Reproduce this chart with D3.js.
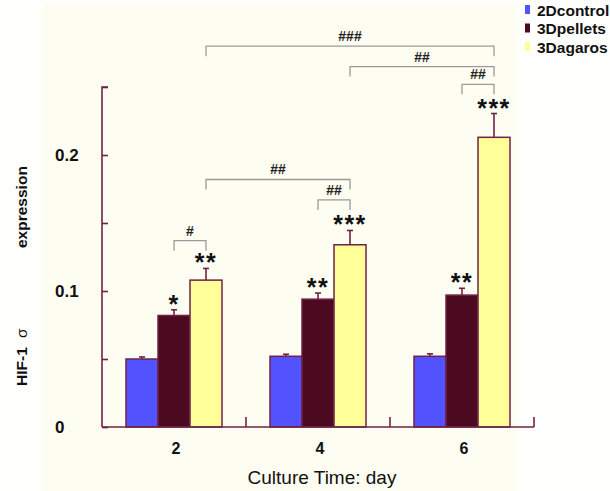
<!DOCTYPE html>
<html>
<head>
<meta charset="utf-8">
<script src="https://cdn.jsdelivr.net/npm/d3@7/dist/d3.min.js"></script>
<style>
  html, body { margin: 0; padding: 0; background: #ffffff; }
  svg { display: block; font-family: Arial, "Liberation Sans", sans-serif; }
</style>
</head>
<body>
<svg id="chart" width="610" height="491"></svg>
<script>
// ---------------- data ----------------
const categories = ["2", "4", "6"];
const seriesNames = ["2Dcontrol", "3Dpellets", "3Dagaros"];
const control2D = [0.050, 0.052, 0.052];
const pellets3D = [0.082, 0.094, 0.097];
const agaros3D  = [0.108, 0.134, 0.213];
const control2DErr = [0.0015, 0.0015, 0.0018];
const pellets3DErr = [0.0042, 0.0045, 0.005];
const agaros3DErr  = [0.0086, 0.0105, 0.0175];
const pellets3DStars = ["*", "**", "**"];
const agaros3DStars  = ["**", "***", "***"];
const yTickValues = [0, 0.05, 0.1, 0.15, 0.2, 0.25];
const yTickLabels = ["0", "", "0.1", "", "0.2", ""];
// comparisons: [category, series] -> [category, series], bracket level (y units), label
const comparisons = [
  { from: ["2", "3Dpellets"], to: ["2", "3Dagaros"], level: 0.137, label: "#" },
  { from: ["4", "3Dpellets"], to: ["4", "3Dagaros"], level: 0.167, label: "##" },
  { from: ["2", "3Dagaros"],  to: ["4", "3Dagaros"], level: 0.182, label: "##" },
  { from: ["6", "3Dpellets"], to: ["6", "3Dagaros"], level: 0.252, label: "##" },
  { from: ["4", "3Dagaros"],  to: ["6", "3Dagaros"], level: 0.265, label: "##" },
  { from: ["2", "3Dagaros"],  to: ["6", "3Dagaros"], level: 0.280, label: "###" }
];

const values = [control2D, pellets3D, agaros3D];
const errs = [control2DErr, pellets3DErr, agaros3DErr];
const stars = [null, pellets3DStars, agaros3DStars];

// ---------------- layout ----------------
const svg = d3.select("#chart");
const colors = d3.scaleOrdinal().domain(seriesNames).range(["#5252ff", "#4c0a20", "#ffff99"]);
const axisColor = "#6e2346";

// background panel
svg.append("rect").attr("x", 0).attr("y", 0).attr("width", 610).attr("height", 491).attr("fill", "#fefefc");
svg.append("rect").attr("x", 42).attr("y", 5).attr("width", 475).attr("height", 486).attr("fill", "#fdfdf2");

const x0 = d3.scaleBand().domain(categories).range([102, 534]).paddingInner(0).paddingOuter(0);
const x1 = d3.scaleBand().domain(seriesNames).range([24, 120]);
const y = d3.scaleLinear().domain([0, 0.25]).range([427, 87]);

const rows = [];
categories.forEach((c, ci) => {
  seriesNames.forEach((s, si) => {
    rows.push({ cat: c, ser: s, v: values[si][ci], e: errs[si][ci], star: stars[si] ? stars[si][ci] : null });
  });
});

const cx = (c, s) => x0(c) + x1(s) + x1.bandwidth() / 2;

// error bars
const eb = svg.append("g").attr("stroke", axisColor).attr("stroke-width", 1.6);
rows.forEach(d => {
  const xc = cx(d.cat, d.ser);
  eb.append("line").attr("x1", xc).attr("x2", xc).attr("y1", y(d.v)).attr("y2", y(d.v + d.e));
  eb.append("line").attr("x1", xc - 3).attr("x2", xc + 3).attr("y1", y(d.v + d.e)).attr("y2", y(d.v + d.e));
});

// bars
svg.append("g").selectAll("rect").data(rows).join("rect")
  .attr("x", d => x0(d.cat) + x1(d.ser))
  .attr("y", d => y(d.v))
  .attr("width", x1.bandwidth())
  .attr("height", d => y(0) - y(d.v))
  .attr("fill", d => colors(d.ser))
  .attr("stroke", axisColor)
  .attr("stroke-width", 1.5);

// stars
svg.append("g").selectAll("text").data(rows.filter(d => d.star)).join("text")
  .attr("x", d => cx(d.cat, d.ser))
  .attr("y", d => y(d.v + d.e) + 3)
  .attr("text-anchor", "middle")
  .attr("font-size", 25)
  .attr("font-weight", "bold")
  .attr("letter-spacing", 1.5)
  .attr("fill", "#111")
  .text(d => d.star);

// comparison brackets
const br = svg.append("g");
comparisons.forEach(cmp => {
  const xa = cx(cmp.from[0], cmp.from[1]);
  const xb = cx(cmp.to[0], cmp.to[1]);
  const yl = y(cmp.level);
  br.append("path")
    .attr("d", `M${xa},${yl + 10}V${yl}H${xb}V${yl + 10}`)
    .attr("fill", "none")
    .attr("stroke", "#9a9a9a")
    .attr("stroke-width", 1.3);
  br.append("text")
    .attr("x", (xa + xb) / 2)
    .attr("y", yl - 5)
    .attr("text-anchor", "middle")
    .attr("font-size", 14)
    .attr("font-weight", "bold")
    .attr("fill", "#222")
    .text(cmp.label);
});

// y axis
const yAxis = d3.axisRight(y).tickValues(yTickValues).tickSize(6).tickFormat(() => "");
const yg = svg.append("g").attr("transform", "translate(102,0)").call(yAxis);
yg.select(".domain").attr("stroke", axisColor).attr("stroke-width", 1.6).attr("d", `M6,${y(0.25)}H0V${y(0)}`);
yg.selectAll(".tick line").attr("stroke", axisColor).attr("stroke-width", 1.6);
svg.append("g").selectAll("text").data(yTickValues.map((v, i) => ({ v, l: yTickLabels[i] })).filter(d => d.l)).join("text")
  .attr("x", 55)
  .attr("y", d => y(d.v) + 6)
  .attr("font-size", 17)
  .attr("font-weight", "bold")
  .attr("fill", "#111")
  .text(d => d.l);

// x axis
const xBoundaries = categories.map(c => x0(c) + x0.bandwidth());
const xg = svg.append("g");
xg.append("line").attr("x1", 102).attr("x2", x0.range()[1]).attr("y1", y(0)).attr("y2", y(0))
  .attr("stroke", axisColor).attr("stroke-width", 1.6);
xg.selectAll(".xt").data(xBoundaries).join("line")
  .attr("x1", d => d).attr("x2", d => d).attr("y1", y(0)).attr("y2", y(0) - 10)
  .attr("stroke", axisColor).attr("stroke-width", 1.6);
xg.selectAll("text").data(categories).join("text")
  .attr("x", d => x0(d) + x0.bandwidth() / 2 + 2)
  .attr("y", 454)
  .attr("text-anchor", "middle")
  .attr("font-size", 16)
  .attr("font-weight", "bold")
  .attr("fill", "#111")
  .text(d => d);

svg.append("text")
  .attr("x", 322).attr("y", 484)
  .attr("text-anchor", "middle")
  .attr("font-size", 19)
  .attr("fill", "#111")
  .text("Culture Time: day");

// y label
const yl = svg.append("text")
  .attr("transform", "translate(27,386) rotate(-90)")
  .attr("font-size", 15.5)
  .attr("font-weight", "bold")
  .attr("fill", "#111");
yl.append("tspan").attr("x", 0).text("HIF-1");
yl.append("tspan").attr("x", 48).attr("font-weight", "normal").text("σ");
yl.append("tspan").attr("x", 138).text("expression");

// legend
const lg = svg.append("g");
seriesNames.forEach((s, i) => {
  lg.append("rect").attr("x", 525).attr("y", 5 + i * 18.5).attr("width", 5).attr("height", 9).attr("fill", colors(s));
  lg.append("text").attr("x", 537).attr("y", 15.5 + i * 18.5)
    .attr("font-size", 15.5).attr("font-weight", "bold").attr("fill", "#111").text(s);
});
</script>
</body>
</html>
